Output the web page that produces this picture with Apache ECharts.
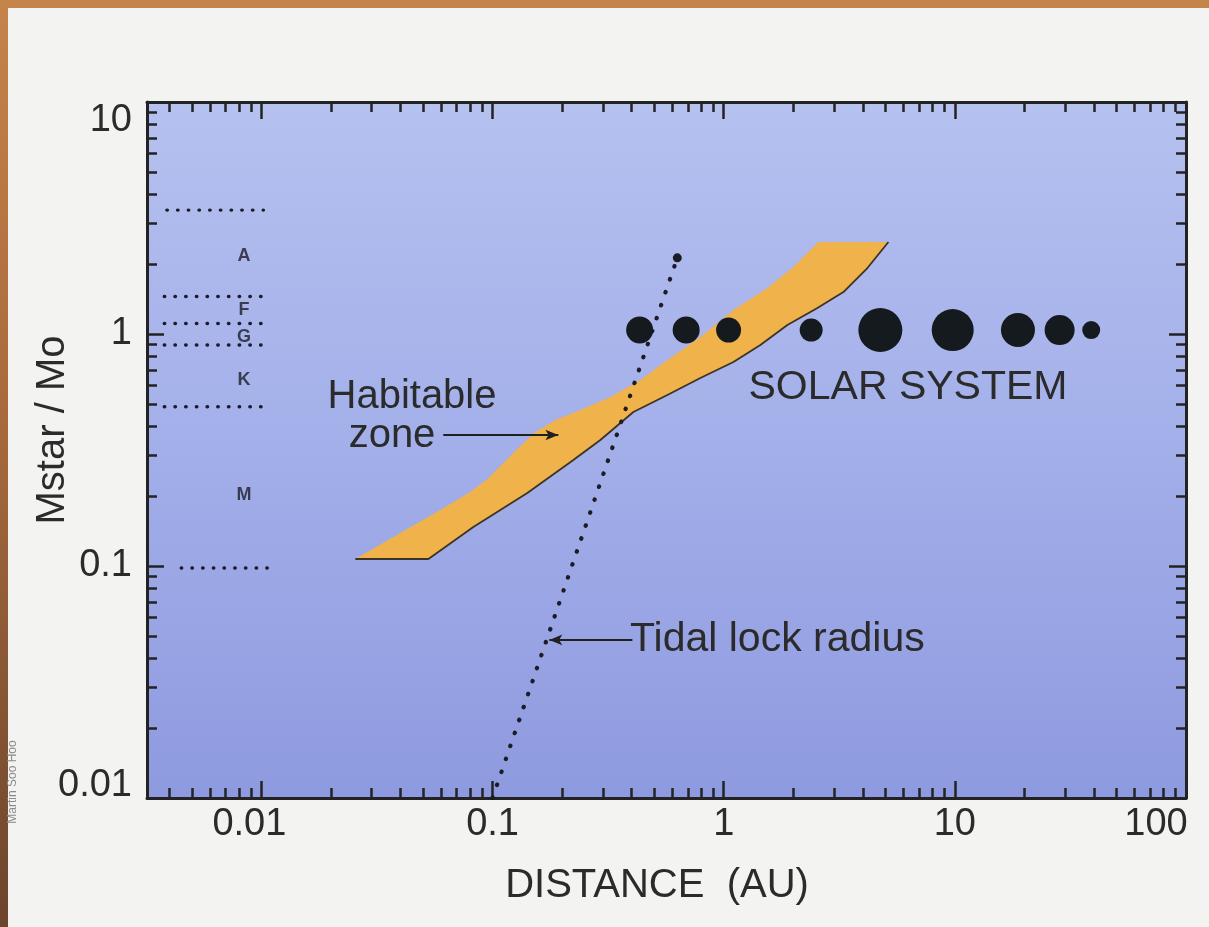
<!DOCTYPE html>
<html>
<head>
<meta charset="utf-8">
<title>Habitable zone vs. stellar mass</title>
<script src="https://cdn.jsdelivr.net/npm/echarts@6/dist/echarts.min.js"></script>
<style>
  html, body { margin: 0; padding: 0; width: 1209px; height: 927px; overflow: hidden; background: #f3f4f1; }
  #frameTop { position: absolute; left: 0; top: 0; width: 1209px; height: 8px; background: #c4844a; }
  #frameLeft { position: absolute; left: 0; top: 0; width: 8px; height: 927px;
               background: linear-gradient(#c4844a, #a86a3c 45%, #6c452d); }
  #chart { position: absolute; left: 0; top: 0; width: 1209px; height: 927px; }
</style>
</head>
<body>
<div id="frameTop"></div>
<div id="frameLeft"></div>
<div id="chart"></div>
<script>
// ---------- axes ----------
const X_MIN = 0.0032, X_MAX = 100;
const Y_MIN = 0.01, Y_MAX = 10;
const xMajorTicks = [0.01, 0.1, 1, 10, 100];
const xTickLabels = ['0.01', '0.1', '1', '10', '100'];
const yMajorTicks = [0.01, 0.1, 1, 10];
const yTickLabels = ['0.01', '0.1', '1', '10'];

// ---------- habitable zone band (distance AU, stellar mass) ----------
const habUpperDist = [0.0255, 0.0399, 0.0594, 0.0801, 0.0950, 0.1103, 0.1281, 0.1532, 0.1870,
                      0.2398, 0.3233, 0.4360, 0.5706, 0.7929, 1.102, 1.546, 2.003, 2.569, 5.161];
const habUpperMass = [0.1072, 0.1388, 0.1743, 0.2084, 0.2370, 0.2753, 0.3193, 0.3780, 0.4259,
                      0.4703, 0.5353, 0.6334, 0.7724, 0.9707, 1.269, 1.579, 1.945, 2.493, 2.493];
const habLowerDist = [5.161, 4.185, 3.296, 2.544, 1.886, 1.441, 1.102, 0.7929, 0.5706, 0.4068,
                      0.3573, 0.2927, 0.2237, 0.1414, 0.0826, 0.0528, 0.0255];
const habLowerMass = [2.493, 1.925, 1.517, 1.294, 1.093, 0.8966, 0.7573, 0.6461, 0.5461, 0.4611,
                      0.4135, 0.3492, 0.2862, 0.2064, 0.1473, 0.1072, 0.1072];

// ---------- tidal lock radius ----------
const tidalDist = [0.1, 0.63];
const tidalMass = [0.01, 2.13];

// ---------- solar system planets ----------
const planetNames = ['Mercury', 'Venus', 'Earth', 'Mars', 'Jupiter', 'Saturn', 'Uranus', 'Neptune', 'Pluto'];
const planetDist  = [0.433, 0.688, 1.05, 2.39, 4.76, 9.79, 18.75, 28.4, 38.9];
const planetMass  = [1.04, 1.04, 1.04, 1.04, 1.04, 1.04, 1.04, 1.04, 1.04];
const planetSize  = [27, 27, 25, 23, 44, 42, 34, 30, 18];

// ---------- spectral classes ----------
const boundaryMass  = [3.42, 1.45, 1.11, 0.897, 0.486, 0.098];
const boundaryStart = [0.0039, 0.0038, 0.0038, 0.0038, 0.0038, 0.0045];
const boundaryEnd   = [0.0102, 0.0105, 0.0105, 0.0105, 0.0105, 0.0108];
const spectralTypes = ['A', 'F', 'G', 'K', 'M'];
const spectralMass  = [2.17, 1.27, 0.97, 0.634, 0.202];
const spectralDist  = 0.0084;

// ---------- annotation arrows ----------
const habArrowDist = [0.0612, 0.1926];
const habArrowMass = 0.367;
const tidalArrowDist = [0.4027, 0.1761];
const tidalArrowMass = 0.048;

// ---------- styling ----------
const FONT = "'Liberation Sans', Arial, Helvetica, sans-serif";
const INK = '#232323';
const TEXT = '#2b2b2b';
const AXIS_W = 3;

function minorTicks(decades, lo, hi) {
  const out = [];
  decades.forEach(d => { for (let k = 2; k <= 9; k++) out.push(+(k * d).toPrecision(3)); });
  return out.filter(v => v >= lo && v <= hi);
}
const xMinorTicks = minorTicks([0.001, 0.01, 0.1, 1, 10], X_MIN, X_MAX);
const yMinorTicks = minorTicks([0.01, 0.1, 1], Y_MIN, Y_MAX);

function labelFor(ticks, labels, v) {
  for (let i = 0; i < ticks.length; i++) {
    if (Math.abs(Math.log10(v / ticks[i])) < 1e-6) return labels[i];
  }
  return '';
}

const labelFont = { fontSize: 38, fontFamily: FONT, color: TEXT };

function xAxisDef(position, ticks, len, main) {
  return {
    type: 'log', logBase: 10, position, min: X_MIN, max: X_MAX, gridIndex: 0,
    axisLine: { show: main, onZero: false, lineStyle: { color: INK, width: AXIS_W } },
    axisTick: { show: true, inside: true, length: len, customValues: ticks,
                lineStyle: { color: INK, width: 2.5 } },
    axisLabel: (main && position === 'bottom') ? {
      show: true, margin: 8, customValues: xMajorTicks, ...labelFont,
      formatter: v => {
        const s = labelFor(xMajorTicks, xTickLabels, v);
        if (s === '0.01') return '{l|' + s + '}';
        if (s === '100') return '{r|' + s + '}';
        return s;
      },
      rich: {
        l: { ...labelFont, padding: [0, 24, 0, 0] },
        r: { ...labelFont, padding: [0, 60, 0, 0] }
      }
    } : { show: false },
    splitLine: { show: false }, minorTick: { show: false }, minorSplitLine: { show: false }
  };
}

function yAxisDef(position, ticks, len, main) {
  return {
    type: 'log', logBase: 10, position, min: Y_MIN, max: Y_MAX, gridIndex: 0,
    axisLine: { show: main, onZero: false, lineStyle: { color: INK, width: AXIS_W } },
    axisTick: { show: true, inside: true, length: len, customValues: ticks,
                lineStyle: { color: INK, width: 2.5 } },
    axisLabel: (main && position === 'left') ? {
      show: true, margin: 15, customValues: yMajorTicks, ...labelFont,
      formatter: v => {
        const s = labelFor(yMajorTicks, yTickLabels, v);
        if (s === '10') return '{t|' + s + '}';
        if (s === '0.01') return '{b|' + s + '}';
        return s;
      },
      rich: {
        t: { ...labelFont, padding: [38, 0, 0, 0] },
        b: { ...labelFont, padding: [0, 0, 24, 0] }
      }
    } : { show: false },
    splitLine: { show: false }, minorTick: { show: false }, minorSplitLine: { show: false }
  };
}

// band outline (filled polygon) and its darker lower rim
const habPolygon = habUpperDist.map((x, i) => [x, habUpperMass[i]])
  .concat(habLowerDist.slice(1).map((x, i) => [x, habLowerMass[i + 1]]));
const habRim = habLowerDist.map((x, i) => [x, habLowerMass[i]]);

const boundarySeries = boundaryMass.map((m, i) => ({
  type: 'line', name: 'class boundary ' + i, silent: true, z: 4,
  data: [[boundaryStart[i], m], [boundaryEnd[i], m]],
  showSymbol: false, symbol: 'none',
  lineStyle: { color: '#1c1c2a', width: 3.4, type: [0.5, 10.2], cap: 'round' }
}));

const arrowStyle = { color: '#202020', width: 2 };

const option = {
  animation: false,
  backgroundColor: 'transparent',
  grid: {
    left: 147, right: 23, top: 102, bottom: 129,
    containLabel: false, outerBoundsMode: 'none',
    show: true, borderWidth: 0,
    backgroundColor: new echarts.graphic.LinearGradient(0, 0, 0, 1, [
      { offset: 0, color: '#b5c1ef' },
      { offset: 0.5, color: '#a3afe9' },
      { offset: 1, color: '#8e9adf' }
    ])
  },
  xAxis: [
    xAxisDef('bottom', xMajorTicks, 17, true),
    xAxisDef('bottom', xMinorTicks, 10, false),
    xAxisDef('top', xMajorTicks, 17, true),
    xAxisDef('top', xMinorTicks, 10, false)
  ],
  yAxis: [
    yAxisDef('left', yMajorTicks, 17, true),
    yAxisDef('left', yMinorTicks, 10, false),
    yAxisDef('right', yMajorTicks, 17, true),
    yAxisDef('right', yMinorTicks, 10, false)
  ],
  series: [
    {
      type: 'custom', name: 'Habitable zone', silent: true, z: 2,
      coordinateSystem: 'cartesian2d', xAxisIndex: 0, yAxisIndex: 0,
      data: [habPolygon[0]],
      renderItem: (params, api) => ({
        type: 'polygon',
        shape: { points: habPolygon.map(p => api.coord(p)) },
        style: { fill: '#f0b24b' }
      })
    },
    {
      type: 'line', name: 'Habitable zone rim', silent: true, z: 3,
      data: habRim, showSymbol: false, symbol: 'none',
      lineStyle: { color: '#3d3324', width: 1.8 },
      markLine: {
        silent: true, symbol: ['none', 'arrow'], symbolSize: [8, 13],
        label: { show: false }, lineStyle: { ...arrowStyle, type: 'solid' },
        data: [
          [{ coord: [habArrowDist[0], habArrowMass] }, { coord: [habArrowDist[1], habArrowMass] }],
          [{ coord: [tidalArrowDist[0], tidalArrowMass] }, { coord: [tidalArrowDist[1], tidalArrowMass] }]
        ]
      }
    },
    {
      type: 'line', name: 'Tidal lock radius', silent: true, z: 5,
      data: tidalDist.map((x, i) => [x, tidalMass[i]]),
      showSymbol: true, symbol: 'circle',
      symbolSize: (val, params) => (params.dataIndex === tidalDist.length - 1 ? 9 : 0),
      itemStyle: { color: '#1c1c24' },
      lineStyle: { color: '#1c1c24', width: 4.2, type: [0.5, 13.2], cap: 'round' }
    },
    {
      type: 'scatter', name: 'Solar system', silent: true, z: 6,
      data: planetDist.map((x, i) => ({ name: planetNames[i], value: [x, planetMass[i]], symbolSize: planetSize[i] })),
      symbol: 'circle',
      itemStyle: { color: '#151a1f', opacity: 1 }
    },
    ...boundarySeries,
    {
      type: 'scatter', name: 'Spectral class', silent: true, z: 5,
      data: spectralTypes.map((t, i) => ({ name: t, value: [spectralDist, spectralMass[i]] })),
      symbolSize: 0,
      label: {
        show: true, position: 'inside', formatter: p => p.name,
        fontFamily: FONT, fontWeight: 'bold', fontSize: 18, color: '#1e1e26',
        textBorderWidth: 0
      }
    }
  ],
  graphic: [
    { type: 'text', x: 412, y: 397, silent: true,
      style: { text: 'Habitable', font: '40px ' + FONT, fill: TEXT, align: 'center', verticalAlign: 'middle' } },
    { type: 'text', x: 392, y: 436, silent: true,
      style: { text: 'zone', font: '40px ' + FONT, fill: TEXT, align: 'center', verticalAlign: 'middle' } },
    { type: 'text', x: 908, y: 388, silent: true,
      style: { text: 'SOLAR SYSTEM', font: '41px ' + FONT, fill: TEXT, align: 'center', verticalAlign: 'middle' } },
    { type: 'text', x: 630, y: 640, silent: true,
      style: { text: 'Tidal lock radius', font: '41px ' + FONT, fill: TEXT, align: 'left', verticalAlign: 'middle' } },
    { type: 'text', x: 657, y: 886, silent: true,
      style: { text: 'DISTANCE  (AU)', font: '40px ' + FONT, fill: TEXT, align: 'center', verticalAlign: 'middle' } },
    { type: 'text', x: 53, y: 430, rotation: Math.PI / 2, silent: true,
      style: { text: 'Mstar / Mo', font: '40px ' + FONT, fill: TEXT, align: 'center', verticalAlign: 'middle' } },
    { type: 'text', x: 13, y: 782, rotation: Math.PI / 2, silent: true,
      style: { text: 'Martin Soo Hoo', font: '12px ' + FONT, fill: '#8a8a8a', align: 'center', verticalAlign: 'middle' } }
  ]
};

const chart = echarts.init(document.getElementById('chart'), null, { renderer: 'canvas' });
chart.setOption(option);
</script>
</body>
</html>
